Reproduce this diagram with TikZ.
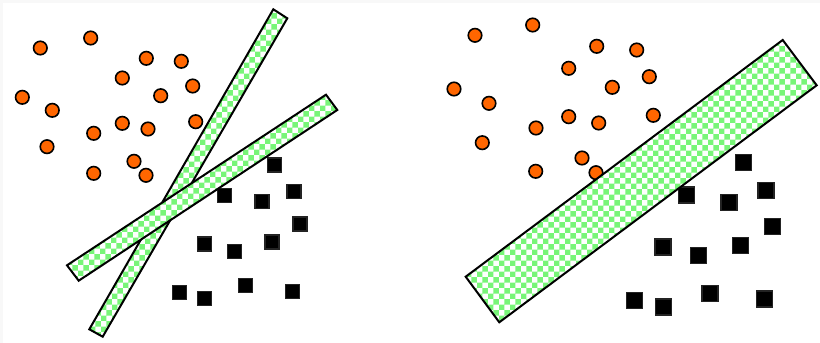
\documentclass[tikz,border=0pt]{standalone}
\usetikzlibrary{patterns}
\definecolor{dotorange}{RGB}{255,102,0}
\definecolor{barGreen}{RGB}{120,245,120}
\definecolor{sqedge}{RGB}{35,35,35}
\definecolor{bandgray}{RGB}{248,248,248}
\tikzset{
  dot/.style={circle, draw=black, fill=dotorange, line width=1.6pt, minimum width=13.5pt, minimum height=12.5pt, inner sep=0pt},
  sqL/.style={rectangle, draw=sqedge, fill=black, line width=1.4pt, minimum size=14pt, inner sep=0pt},
  sqR/.style={rectangle, draw=sqedge, fill=black, line width=1.4pt, minimum size=16pt, inner sep=0pt},
  bar/.style={preaction={fill=white}, preaction={pattern=checkerboard, pattern color=barGreen}, draw=black, line width=2pt, line join=miter}
}
\begin{document}
\begin{tikzpicture}[x=1pt,y=-1pt]
\useasboundingbox (0,0) rectangle (820,343);
\fill[bandgray] (0,0) rectangle (820,343);
\fill[white] (3,3) rectangle (820,343);
% left panel circles
\foreach \x/\y [count=\i] in {40.3/48, 90.7/38, 146.3/58.3, 181.3/61.3, 122.3/78, 192.7/86, 160.7/95.7, 22.3/97.3, 52.3/110.3, 195.7/121.7, 122.3/123.3, 148/129, 93.7/133.3, 47/146.7, 134/161.3, 93.7/173.3, 146/175.3}
  \node[dot, minimum height=13.5pt] (lc\i) at (\x,\y) {};
% left panel squares
\foreach \x/\y [count=\i] in {274.3/165, 224.7/195.3, 262/201.3, 294/191.3, 300/224, 204.3/244, 234.7/251.3, 272/242, 179.7/292.7, 204.3/298.7, 245.3/285.7, 292.3/291.3}
  \node[sqL] (ls\i) at (\x,\y) {};
% right panel circles
\foreach \x/\y [count=\i] in {475/35.3, 532.7/25, 596.7/46.3, 636.7/50, 568.7/68.3, 649.3/76.7, 612.3/87.3, 454/89, 489/103.3, 653.3/115.3, 568.7/116.7, 598.7/123, 536/128, 482.3/142.7, 582/158, 535.7/171.3, 596/172.7}
  \node[dot] (rc\i) at (\x,\y) {};
% right panel squares
\foreach \x/\y [count=\i] in {743.3/162.3, 686.7/195, 729/202.3, 766/190.7, 772.7/226.3, 663/247, 698.3/255.7, 740.7/245.3, 634.3/300.7, 663.3/307, 710/293.3, 764.3/299}
  \node[sqR] (rs\i) at (\x,\y) {};
% bars
\draw[bar] (273.3,9.3) -- (287.3,18.3) -- (102.7,336.7) -- (89.3,329.3) -- cycle;
\draw[bar] (326,94.7) -- (337.3,110) -- (78.7,280.7) -- (67,265.3) -- cycle;
\draw[bar] (782.7,40) -- (816.7,85.3) -- (499.3,322.3) -- (465.7,276.7) -- cycle;
\end{tikzpicture}
\end{document}
